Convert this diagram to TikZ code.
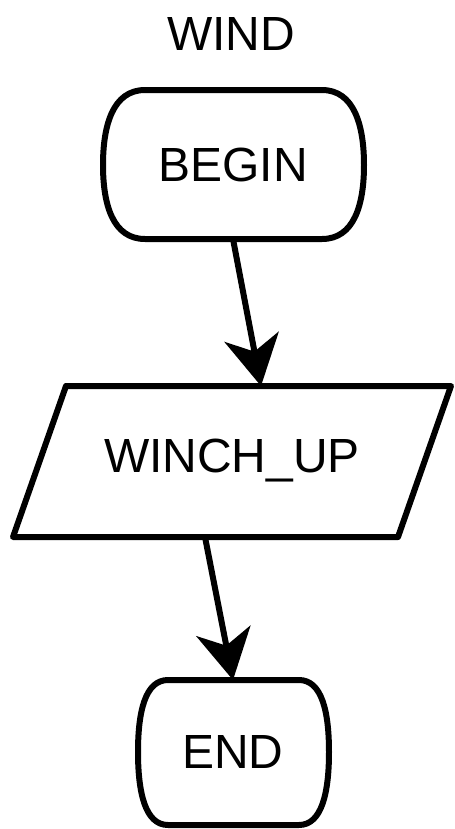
\documentclass[tikz,border=0pt]{standalone}
\usepackage{fontspec}
\setmainfont{Liberation Sans}
\usetikzlibrary{arrows.meta}

\begin{document}
\begin{tikzpicture}[x=0.02cm, y=-0.02cm, every node/.style={font=\fontsize{27.3}{32}\selectfont},
		outline/.style={line width=0.12cm, line join=round},
		flow/.style={line width=0.12cm, -{Stealth[length=1cm, width=1.1cm, inset=0.3cm]}}]
	\useasboundingbox (0,0) rectangle (455,829);
	\node (title) at (231,34) {WIND};
	% begin terminal
	\draw[outline] (145,90) -- (322,90) .. controls (354,90) and (364,125) .. (364,165)
		.. controls (364,205) and (354,239) .. (322,239) -- (145,239)
		.. controls (113,239) and (103,205) .. (103,165)
		.. controls (103,125) and (113,90) .. (145,90) -- cycle;
	\node (begin) at (233,165) {BEGIN};
	\coordinate (begin-s) at (233,239);
	% input step
	\draw[outline] (66,386) -- (451,386) -- (398,537) -- (13,537) -- cycle;
	\node (winch) at (232,461) {WINCH\_UP};
	\coordinate (winch-n) at (261,386); \coordinate (winch-s) at (205,537);
	% end terminal
	\draw[outline] (168,680) -- (299,680) .. controls (322,680) and (329,712) .. (329,752)
		.. controls (329,792) and (322,825) .. (299,825) -- (168,825)
		.. controls (145,825) and (138,792) .. (138,752)
		.. controls (138,712) and (145,680) .. (168,680) -- cycle;
	\node (end) at (233,752) {END};
	\coordinate (end-n) at (233,680);
	\draw[flow] (begin-s) -- (winch-n);
	\draw[flow] (winch-s) -- (end-n);
\end{tikzpicture}
\end{document}
